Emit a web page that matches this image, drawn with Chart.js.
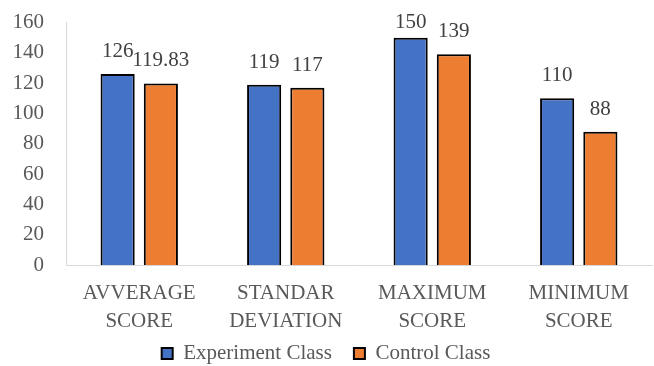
<!DOCTYPE html>
<html lang="en">
<head>
  <meta charset="UTF-8">
  <title>Experiment vs Control Class</title>
  <script src="https://cdn.jsdelivr.net/npm/chart.js"></script>
  <style>
    html, body { margin: 0; padding: 0; background: #fff; }
    .chart-container { width: 654px; height: 366px; }
  </style>
</head>
<body>
  <div class="chart-container">
    <canvas id="chart"></canvas>
  </div>
  <script>
    const categories = [["AVVERAGE", "SCORE"], ["STANDAR", "DEVIATION"], ["MAXIMUM", "SCORE"], ["MINIMUM", "SCORE"]];
    const experimentValues = [126, 119, 150, 110];
    const controlValues = [119.83, 117, 139, 88];
    const seriesNames = ["Experiment Class", "Control Class"];

    const fontFamily = "'Liberation Serif', 'DejaVu Serif', serif";

    // value labels above each bar, kept inside the plot area
    const valueLabels = {
      id: "valueLabels",
      afterLayout(chart) {
        // x labels overlap the legend's blank top padding; don't clip them
        chart.scales.x.bottom = chart.height;
      },
      afterDatasetsDraw(chart) {
        const ctx = chart.ctx;
        ctx.save();
        ctx.font = "21px " + fontFamily;
        ctx.fillStyle = "#404040";
        ctx.textAlign = "center";
        ctx.textBaseline = "alphabetic";
        chart.data.datasets.forEach((ds, i) => {
          chart.getDatasetMeta(i).data.forEach((bar, j) => {
            const y = Math.max(bar.y - 17, chart.chartArea.top + 5);
            ctx.fillText(ds.data[j], bar.x, y);
          });
        });
        ctx.restore();
      }
    };

    new Chart(document.getElementById("chart"), {
      type: "bar",
      data: {
        labels: categories,
        datasets: [
          { label: seriesNames[0], data: experimentValues, backgroundColor: "#4472C4", borderColor: "#000", borderWidth: 2 },
          { label: seriesNames[1], data: controlValues, backgroundColor: "#ED7D31", borderColor: "#000", borderWidth: 2 }
        ]
      },
      options: {
        responsive: true,
        maintainAspectRatio: false,
        animation: false,
        categoryPercentage: 0.59,
        barPercentage: 0.79,
        // negative bottom pushes the legend's empty tail off the canvas
        layout: { padding: { top: 0, right: 2, left: 0, bottom: -8 } },
        plugins: {
          tooltip: { enabled: false },
          legend: {
            position: "bottom",
            labels: {
              font: { family: fontFamily, size: 21 },
              color: "#595959",
              boxWidth: 11,
              boxHeight: 11,
              padding: 22
            }
          }
        },
        scales: {
          x: {
            afterFit(scale) { scale.height -= 20; },
            grid: { display: false },
            border: { color: "#d9d9d9", width: 1 },
            ticks: {
              font: { family: fontFamily, size: 21, lineHeight: 1.33 },
              color: "#595959",
              maxRotation: 0,
              padding: 6
            }
          },
          y: {
            min: 0,
            max: 160,
            afterFit(scale) { scale.width = 66; },
            grid: { display: false, drawTicks: false },
            border: { color: "#d9d9d9", width: 1 },
            ticks: {
              stepSize: 20,
              autoSkip: false,
              // tiny lineHeight keeps the tick padding from adding top space
              font: { family: fontFamily, size: 21, lineHeight: 0.05 },
              color: "#595959",
              padding: 22
            }
          }
        }
      },
      plugins: [valueLabels]
    });
  </script>
</body>
</html>
